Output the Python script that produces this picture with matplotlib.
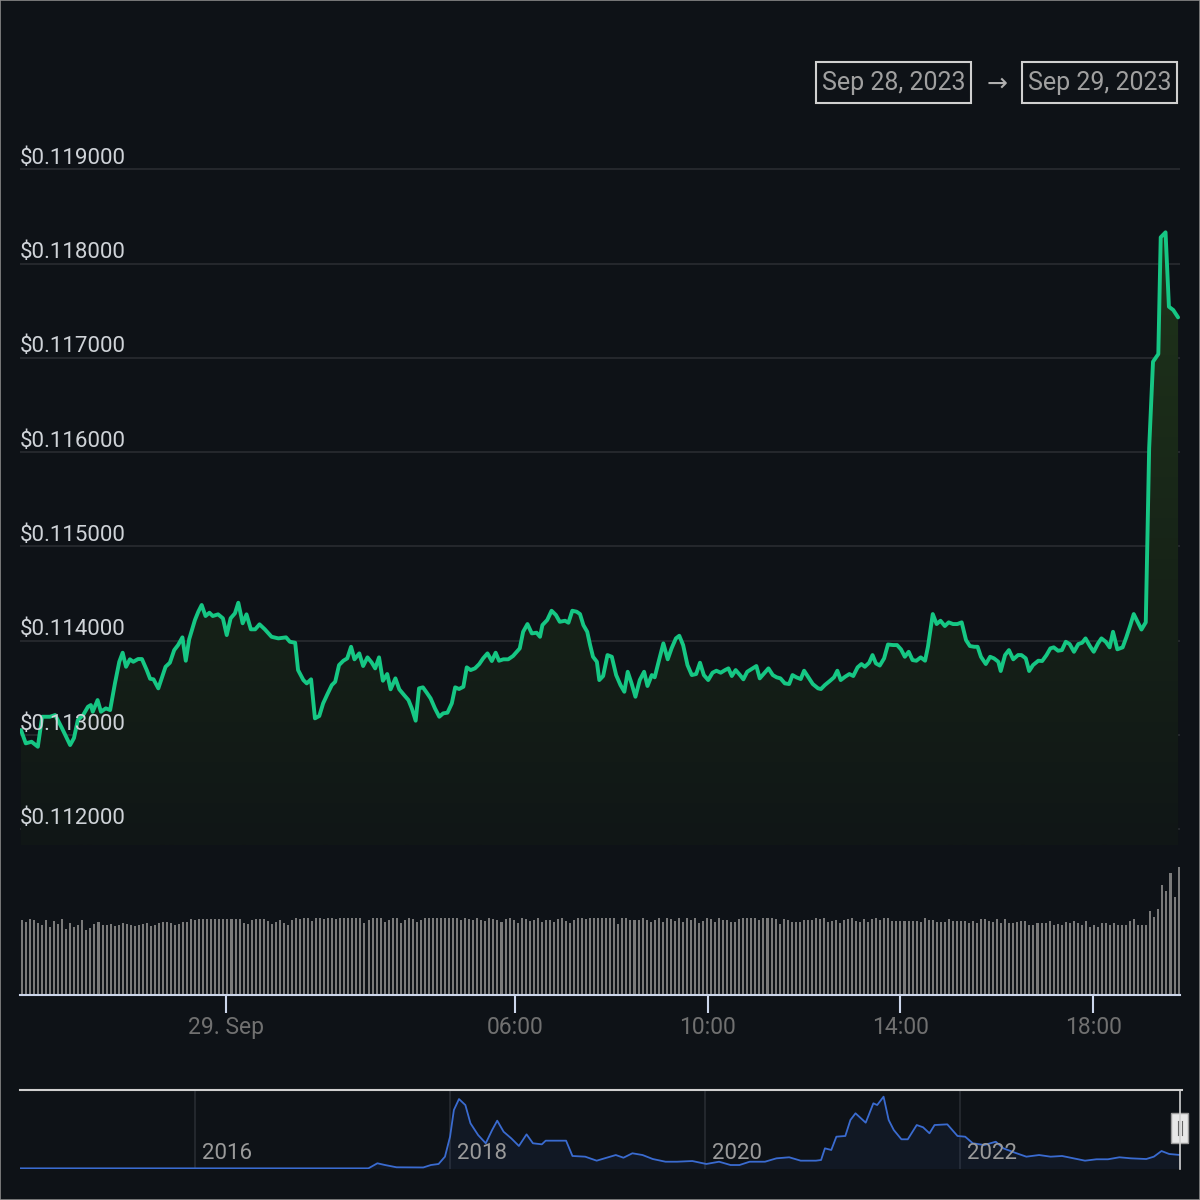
import numpy as np
import matplotlib
matplotlib.use("Agg")
import matplotlib.pyplot as plt
from matplotlib import transforms
from matplotlib.patches import Rectangle
from matplotlib.lines import Line2D

plt.rcParams['font.family'] = ['Roboto', 'DejaVu Sans']

# ---------------- data ----------------
# hours relative to 29 Sep 2023 00:00
price_hours = [
    -4.25, -4.15, -4.03, -3.90, -3.81, -3.65, -3.54, -3.40, -3.23, -3.15,
    -3.07, -2.96, -2.86, -2.80, -2.76, -2.66, -2.59, -2.49, -2.40, -2.30,
    -2.21, -2.14, -2.07, -1.99, -1.92, -1.82, -1.74, -1.64, -1.57, -1.50,
    -1.40, -1.32, -1.25, -1.16, -1.07, -0.99, -0.90, -0.83, -0.76, -0.64,
    -0.57, -0.50, -0.42, -0.34, -0.27, -0.16, -0.06, 0.02, 0.10, 0.19,
    0.26, 0.35, 0.43, 0.52, 0.61, 0.70, 0.81, 0.95, 1.09, 1.25,
    1.33, 1.44, 1.50, 1.61, 1.68, 1.77, 1.85, 1.94, 2.02, 2.11,
    2.20, 2.27, 2.35, 2.44, 2.52, 2.60, 2.67, 2.77, 2.85, 2.94,
    3.03, 3.10, 3.18, 3.26, 3.35, 3.42, 3.52, 3.60, 3.70, 3.79,
    3.86, 3.94, 4.01, 4.09, 4.17, 4.25, 4.34, 4.43, 4.51, 4.60,
    4.69, 4.76, 4.84, 4.93, 5.00, 5.08, 5.17, 5.26, 5.34, 5.43,
    5.52, 5.60, 5.67, 5.76, 5.86, 5.96, 6.10, 6.17, 6.26, 6.35,
    6.45, 6.52, 6.57, 6.67, 6.76, 6.85, 6.93, 7.04, 7.11, 7.19,
    7.28, 7.35, 7.42, 7.50, 7.56, 7.62, 7.70, 7.75, 7.83, 7.92,
    8.01, 8.10, 8.19, 8.27, 8.34, 8.42, 8.50, 8.59, 8.68, 8.75,
    8.84, 8.90, 8.99, 9.08, 9.17, 9.25, 9.34, 9.41, 9.49, 9.58,
    9.67, 9.76, 9.84, 9.92, 10.01, 10.10, 10.18, 10.27, 10.36, 10.43,
    10.50, 10.58, 10.67, 10.74, 10.82, 10.93, 11.01, 11.08, 11.17, 11.26,
    11.35, 11.43, 11.51, 11.60, 11.69, 11.76, 11.84, 11.93, 12.00, 12.09,
    12.18, 12.29, 12.35, 12.43, 12.54, 12.62, 12.69, 12.76, 12.85, 12.94,
    13.02, 13.11, 13.19, 13.26, 13.35, 13.42, 13.49, 13.57, 13.66, 13.74,
    13.85, 13.93, 14.01, 14.09, 14.17, 14.25, 14.33, 14.42, 14.51, 14.57,
    14.67, 14.75, 14.83, 14.92, 15.00, 15.09, 15.18, 15.27, 15.36, 15.44,
    15.53, 15.60, 15.67, 15.77, 15.86, 15.94, 16.03, 16.08, 16.17, 16.25,
    16.34, 16.44, 16.51, 16.60, 16.67, 16.75, 16.86, 16.94, 17.03, 17.11,
    17.18, 17.27, 17.35, 17.43, 17.51, 17.60, 17.69, 17.77, 17.84, 17.93,
    18.01, 18.10, 18.17, 18.26, 18.34, 18.41, 18.50, 18.61, 18.69, 18.77,
    18.84, 18.92, 19.00, 19.09, 19.16, 19.24, 19.35, 19.40, 19.50, 19.57,
    19.66, 19.76,
]
# price in micro-dollars
price_musd = [
    113053, 112912, 112929, 112876, 113194, 113194, 113212, 113074, 112894, 112968,
    113159, 113212, 113300, 113318, 113247, 113371, 113247, 113283, 113265, 113548,
    113777, 113873, 113724, 113803, 113777, 113806, 113806, 113689, 113597, 113591,
    113495, 113618, 113724, 113767, 113901, 113954, 114036, 113788, 114015, 114220,
    114308, 114379, 114262, 114297, 114262, 114280, 114238, 114060, 114238, 114291,
    114403, 114185, 114280, 114121, 114121, 114174, 114121, 114042, 114025, 114036,
    113989, 113979, 113689, 113583, 113548, 113591, 113177, 113202, 113336, 113435,
    113530, 113565, 113742, 113788, 113813, 113936, 113803, 113866, 113732, 113824,
    113767, 113707, 113824, 113576, 113647, 113485, 113601, 113485, 113424, 113371,
    113283, 113152, 113495, 113506, 113449, 113389, 113283, 113194, 113230, 113237,
    113336, 113506, 113488, 113512, 113718, 113689, 113707, 113753, 113813, 113866,
    113785, 113873, 113788, 113803, 113803, 113838, 113919, 114095, 114177, 114078,
    114085, 114042, 114166, 114220, 114318, 114273, 114201, 114212, 114191, 114318,
    114308, 114283, 114166, 114095, 113954, 113830, 113777, 113583, 113626, 113848,
    113830, 113636, 113530, 113459, 113671, 113548, 113406, 113583, 113671, 113520,
    113636, 113612, 113795, 113972, 113803, 113919, 114025, 114053, 113954, 113742,
    113636, 113647, 113767, 113636, 113583, 113661, 113682, 113661, 113689, 113707,
    113626, 113689, 113636, 113591, 113671, 113707, 113732, 113601, 113654, 113707,
    113636, 113612, 113601, 113548, 113541, 113636, 113612, 113594, 113682, 113612,
    113541, 113495, 113488, 113530, 113576, 113612, 113682, 113583, 113618, 113647,
    113626, 113718, 113753, 113724, 113767, 113848, 113760, 113737, 113813, 113960,
    113954, 113954, 113909, 113830, 113883, 113795, 113788, 113824, 113788, 113936,
    114283, 114177, 114212, 114156, 114195, 114177, 114177, 114195, 114007, 113944,
    113936, 113936, 113830, 113753, 113830, 113813, 113777, 113679, 113848, 113901,
    113803, 113848, 113848, 113813, 113679, 113742, 113788, 113785, 113848, 113919,
    113930, 113894, 113901, 113989, 113965, 113883, 113965, 113979, 114025, 113944,
    113883, 113972, 114025, 113989, 113930, 114095, 113909, 113930, 114042, 114166,
    114283, 114201, 114119, 114195, 116043, 116959, 117040, 118278, 118331, 117542,
    117507, 117429,
]
# 5-minute volume bars (relative units)
volume = [
    75, 73, 76, 75, 72, 70, 75, 68, 74, 71, 76, 66, 72, 68, 70, 75, 65, 67, 71, 73,
    70, 70, 71, 69, 70, 72, 71, 70, 69, 70, 71, 72, 69, 70, 72, 73, 73, 72, 70, 71,
    73, 73, 76, 75, 76, 76, 76, 76, 76, 76, 76, 76, 76, 76, 76, 72, 71, 75, 76, 76,
    76, 74, 71, 73, 75, 72, 70, 75, 77, 76, 77, 77, 74, 77, 77, 76, 77, 77, 76, 77,
    77, 77, 77, 77, 77, 72, 75, 77, 77, 77, 73, 75, 77, 77, 72, 75, 77, 76, 73, 75,
    77, 77, 77, 77, 77, 77, 77, 77, 77, 75, 77, 76, 75, 77, 75, 74, 77, 76, 75, 73,
    76, 77, 75, 72, 77, 76, 74, 75, 77, 73, 75, 75, 73, 76, 77, 74, 72, 75, 77, 77,
    76, 77, 77, 77, 77, 77, 77, 77, 71, 77, 77, 75, 75, 75, 77, 75, 73, 75, 77, 73,
    77, 76, 74, 77, 73, 77, 75, 77, 72, 74, 77, 76, 73, 77, 75, 75, 73, 73, 76, 77,
    77, 77, 77, 75, 77, 77, 77, 76, 71, 76, 75, 73, 73, 73, 75, 75, 75, 77, 76, 77,
    73, 74, 75, 72, 75, 76, 77, 74, 73, 76, 73, 76, 77, 75, 77, 77, 74, 74, 74, 74,
    74, 74, 74, 73, 77, 75, 75, 73, 73, 73, 76, 74, 74, 74, 74, 72, 74, 72, 76, 76,
    74, 73, 76, 72, 76, 72, 72, 73, 74, 74, 70, 70, 72, 72, 72, 74, 70, 71, 70, 73,
    72, 74, 72,
    70, 74, 68, 70, 68, 72, 72, 70, 72, 70, 70, 70, 74, 76, 70, 70, 70, 84, 78, 86,
    110, 104, 122, 98, 128,
]
vol_first_hour, vol_last_hour = -4.23, 19.77

y_ticks = [0.112, 0.113, 0.114, 0.115, 0.116, 0.117, 0.118, 0.119]
y_tick_labels = ['$0.112000', '$0.113000', '$0.114000', '$0.115000',
                 '$0.116000', '$0.117000', '$0.118000', '$0.119000']
x_tick_hours = [0, 6, 10, 14, 18]
x_tick_labels = ['29. Sep', '06:00', '10:00', '14:00', '18:00']

# navigator: long-term history (decimal years, USD)
nav_years = [
    2014.63, 2017.36, 2017.43, 2017.49, 2017.58, 2017.79, 2017.85, 2017.91, 2017.96, 2018.00,
    2018.03, 2018.07, 2018.12, 2018.16, 2018.22, 2018.28, 2018.33, 2018.37, 2018.42, 2018.48,
    2018.54, 2018.60, 2018.65, 2018.72, 2018.75, 2018.91, 2018.96, 2019.06, 2019.15, 2019.24,
    2019.30, 2019.36, 2019.43, 2019.51, 2019.59, 2019.69, 2019.78, 2019.90, 2020.01, 2020.11,
    2020.20, 2020.27, 2020.35, 2020.47, 2020.56, 2020.66, 2020.75, 2020.87, 2020.91, 2020.94,
    2020.99, 2021.03, 2021.10, 2021.14, 2021.18, 2021.26, 2021.32, 2021.35, 2021.40, 2021.44,
    2021.48, 2021.54, 2021.59, 2021.66, 2021.71, 2021.76, 2021.80, 2021.90, 2021.98, 2022.04,
    2022.10, 2022.19, 2022.28, 2022.34, 2022.43, 2022.52, 2022.62, 2022.71, 2022.80, 2022.89,
    2022.98, 2023.07, 2023.16, 2023.25, 2023.34, 2023.46, 2023.52, 2023.58, 2023.64, 2023.73,
]
nav_usd = [
    0.002, 0.002, 0.060, 0.040, 0.014, 0.012, 0.040, 0.052, 0.136, 0.366,
    0.673, 0.799, 0.730, 0.520, 0.385, 0.290, 0.443, 0.550, 0.423, 0.347,
    0.259, 0.393, 0.290, 0.278, 0.320, 0.320, 0.144, 0.136, 0.090, 0.129,
    0.155, 0.124, 0.175, 0.155, 0.109, 0.078, 0.078, 0.086, 0.052, 0.078,
    0.040, 0.040, 0.078, 0.078, 0.117, 0.129, 0.090, 0.090, 0.098, 0.232,
    0.213, 0.366, 0.374, 0.558, 0.635, 0.527, 0.750, 0.730, 0.826, 0.558,
    0.443, 0.336, 0.336, 0.500, 0.474, 0.405, 0.500, 0.508, 0.374, 0.366,
    0.290, 0.270, 0.308, 0.232, 0.182, 0.136, 0.155, 0.136, 0.144, 0.117,
    0.090, 0.106, 0.106, 0.129, 0.117, 0.109, 0.136, 0.201, 0.167, 0.155,
]
nav_year_ticks = [2016, 2018, 2020, 2022]
date_from, date_to = 'Sep 28, 2023', 'Sep 29, 2023'

# ---------------- styling ----------------
BG = '#0e1217'
GREEN = '#16c784'
W = H = 1200.0


def fx(px):
    return px / W


def fy(py):
    return 1 - py / H


fig = plt.figure(figsize=(12, 12), dpi=100)
fig.patch.set_facecolor(BG)

hours = np.array(price_hours)
price = np.array(price_musd) / 1e6
t_lo, t_hi = -4.27, 19.80
p_lo, p_hi = 0.111834, 0.119416

# ---------------- price pane ----------------
axp = fig.add_axes([fx(20), fy(845), fx(1160), 715 / H])
axp.set_facecolor('none')
for s in axp.spines.values():
    s.set_visible(False)
axp.set_xticks([])
axp.set_yticks([])
for v in y_ticks:
    axp.axhline(v, color='#2b2e33', lw=1.1, zorder=1)

grad = np.linspace(0, 1, 256)[:, None, None]
c_top = np.array([31, 52, 26]) / 255.0
c_bot = np.array([16, 22, 22]) / 255.0
img = c_top[None, None, :] * (1 - grad) + c_bot[None, None, :] * grad
im = axp.imshow(img, extent=[t_lo, t_hi, p_lo, price.max()], aspect='auto',
                origin='upper', zorder=2, interpolation='bilinear')
poly = axp.fill_between(hours, price, p_lo, facecolor='none', edgecolor='none')
im.set_clip_path(poly.get_paths()[0], transform=axp.transData)
axp.plot(hours, price, color=GREEN, lw=2.8, zorder=4, solid_joinstyle='round',
         solid_capstyle='round')
axp.set_xlim(t_lo, t_hi)
axp.set_ylim(p_lo, p_hi)

lab_tr = transforms.offset_copy(axp.get_yaxis_transform(), fig=fig, x=0, y=11, units='dots')
for v, lab in zip(y_ticks, y_tick_labels):
    axp.text(0, v, lab, transform=lab_tr, ha='left', va='center', color='#cfd3d8',
             fontsize=16, zorder=6)

# ---------------- volume pane ----------------
axv = fig.add_axes([fx(20), fy(995), fx(1160), 145 / H])
axv.set_facecolor('none')
vol_hours = np.linspace(vol_first_hour, vol_last_hour, len(volume))
axv.bar(vol_hours, volume, width=0.042, color='#7a7a7a', align='center', zorder=2)
axv.set_xlim(t_lo, t_hi)
axv.set_ylim(0, 145)
for k, s in axv.spines.items():
    s.set_visible(k == 'bottom')
axv.spines['bottom'].set_color('#ccd6eb')
axv.spines['bottom'].set_linewidth(1.5)
axv.set_yticks([])
axv.set_xticks(x_tick_hours)
axv.set_xticklabels(x_tick_labels)
axv.tick_params(axis='x', length=13, width=1.5, color='#ccd6eb', labelcolor='#707070',
                labelsize=16.5, pad=2)

# ---------------- navigator ----------------
axn = fig.add_axes([fx(20), fy(1168.5), fx(1160), 78.5 / H])
axn.set_facecolor('none')
for s in axn.spines.values():
    s.set_visible(False)
axn.set_xticks([])
axn.set_yticks([])
for yr in nav_year_ticks:
    axn.axvline(yr, color='#2a2e35', lw=1.1, zorder=1)
axn.fill_between(nav_years, nav_usd, 0, color='#3a6bd0', alpha=0.07, lw=0, zorder=2)
axn.plot(nav_years, nav_usd, color='#3a6bd0', lw=1.3, zorder=3)
axn.set_xlim(2014.627, 2023.725)
axn.set_ylim(0, 0.903)
yr_tr = transforms.offset_copy(axn.get_xaxis_transform(), fig=fig, x=7, y=0, units='dots')
for yr in nav_year_ticks:
    axn.text(yr, 0.197, str(yr), transform=yr_tr, ha='left', va='center',
             color='#9a9a9a', fontsize=16, zorder=4)

fig.add_artist(Line2D([fx(20), fx(1182)], [fy(1090), fy(1090)], color='#d0d0d0', lw=1.5))
fig.add_artist(Line2D([fx(1180), fx(1180)], [fy(1090), fy(1169)], color='#d0d0d0', lw=1.2))
fig.add_artist(Rectangle((fx(1171), fy(1143)), fx(17), 30 / H, facecolor='#e8e8e8',
                         edgecolor='#9a9a9a', lw=1, transform=fig.transFigure))
for hx in (1177.5, 1181.5):
    fig.add_artist(Line2D([fx(hx), fx(hx)], [fy(1121), fy(1135)], color='#666666', lw=0.8))

# ---------------- date range boxes ----------------
for (x0, x1), txt in (((816, 971), date_from), ((1022, 1177), date_to)):
    fig.add_artist(Rectangle((fx(x0), fy(103)), fx(x1 - x0), 41 / H, facecolor='none',
                             edgecolor='#d0d0d0', lw=1.5, transform=fig.transFigure))
    fig.text(fx((x0 + x1) / 2), fy(83), txt, ha='center', va='center', color='#a0a0a0',
             fontsize=18)
fig.text(fx(997), fy(84), '→', ha='center', va='center', color='#b0b0b0', fontsize=18)

# outer frame
fig.add_artist(Rectangle((0, 0), 1, 1, facecolor='none', edgecolor='#8a8a8a', lw=1.2,
                         transform=fig.transFigure))

fig.savefig('out.png', dpi=100, facecolor=BG)
